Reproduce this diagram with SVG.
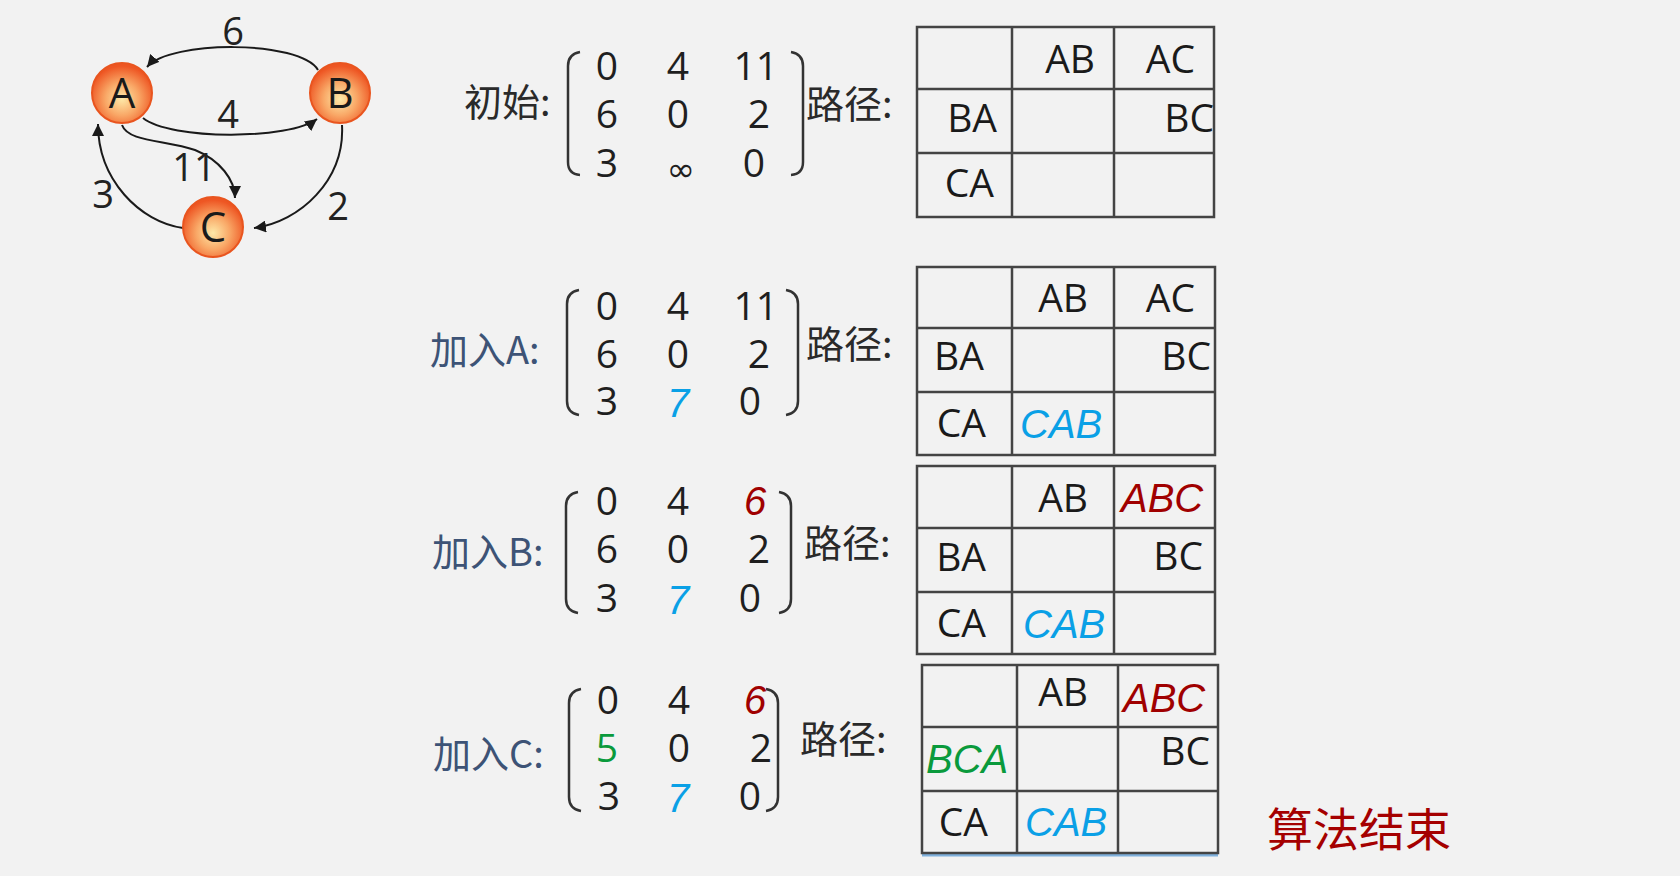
<svg xmlns="http://www.w3.org/2000/svg" width="1680" height="876" viewBox="0 0 1680 876">
<defs>
<radialGradient id="ng" cx="50%" cy="60%" r="55%">
<stop offset="0" stop-color="#fee9a8"/>
<stop offset="0.5" stop-color="#f9a867"/>
<stop offset="1" stop-color="#ee5623"/>
</radialGradient>
<marker id="ah" markerUnits="userSpaceOnUse" markerWidth="14" markerHeight="12" refX="12" refY="6" orient="auto">
<path d="M0,0 L12,6 L0,12 Z" fill="#1a1a1a"/>
</marker>
<style>
.bg{fill:#f2f2f2}
.node{fill:url(#ng);stroke:#e9551f;stroke-width:2}
.nl{font-family:"Open Sans","Noto Sans",sans-serif;font-size:42px;fill:#1a1a1a;text-anchor:middle}
.edge{fill:none;stroke:#1a1a1a;stroke-width:2;marker-end:url(#ah)}
.el{font-family:"Open Sans","Noto Sans",sans-serif;font-size:38px;fill:#222;text-anchor:middle}
.num{font-family:"Open Sans","Noto Sans",sans-serif;font-size:39px;fill:#1f1f1f;text-anchor:middle}
.hw{font-family:"Liberation Sans","DejaVu Sans",sans-serif;font-style:italic;font-size:40px}
.blue{fill:#0aa0e6}
.red{fill:#a00000}
.green{fill:#0a9a3c}
.cj{font-family:"Noto Sans CJK SC",sans-serif;font-size:38px;fill:#2a2a2a}
.lab{font-family:"Noto Sans CJK SC",sans-serif;font-size:38px;fill:#3d5376}
.br{fill:none;stroke:#333;stroke-width:2.5}
.tb{fill:none;stroke:#444;stroke-width:2.5}
.tt{font-family:"Open Sans","Noto Sans",sans-serif;font-size:39px;fill:#1a1a1a}
.end{text-anchor:end}
.fin{font-family:"Noto Sans CJK SC",sans-serif;font-size:46px;fill:#a50000;font-weight:400}
</style>
</defs>
<rect class="bg" x="0" y="0" width="1680" height="876"/>

<g id="connectors">
<path class="edge" d="M318,70 C300,40 170,40 147,67"/>
<path class="edge" d="M143,118 C170,140 290,140 317,119"/>
<path class="edge" d="M122,125 C128,142 165,140 195,150 C220,160 235,180 235,198"/>
<path class="edge" d="M183,228 C140,222 98,180 98,124"/>
<path class="edge" d="M342,125 C345,180 300,222 254,228"/>
<text class="el" x="233" y="45">6</text>
<text class="el" x="228" y="128">4</text>
<text class="el" x="194" y="181">11</text>
<text class="el" x="103" y="208">3</text>
<text class="el" x="338" y="220">2</text>
</g>

<g id="node-A"><circle class="node" cx="122" cy="93" r="30"/><text class="nl" x="122" y="108">A</text></g>
<g id="node-B"><circle class="node" cx="340" cy="93" r="30"/><text class="nl" x="340" y="108">B</text></g>
<g id="node-C"><circle class="node" cx="213" cy="227" r="30"/><text class="nl" x="213" y="242">C</text></g>

<g id="matrix-init">
<text class="cj" x="464" y="116">初始:</text>
<path class="br" d="M580,52 Q568,54 568,66 L568,162 Q568,174 580,175"/>
<path class="br" d="M791,52 Q803,54 803,66 L803,162 Q803,174 791,175"/>
<text class="num" x="607" y="80">0</text><text class="num" x="678" y="80">4</text><text class="num end" x="778" y="80">11</text>
<text class="num" x="607" y="128">6</text><text class="num" x="678" y="128">0</text><text class="num end" x="770" y="128">2</text>
<text class="num" x="607" y="177">3</text><text x="681" y="181" style="font-family:'DejaVu Sans',sans-serif;font-size:34px;fill:#1f1f1f;text-anchor:middle">∞</text><text class="num" x="754" y="177">0</text>
<text class="cj" x="806" y="118">路径:</text>
</g>

<g id="table-init">
<rect class="tb" x="917" y="27" width="297" height="190"/>
<path class="tb" d="M1012,27 V217 M1114,27 V217 M917,89 H1214 M917,153 H1214"/>
<text class="tt end" x="1095" y="73">AB</text><text class="tt end" x="1195" y="73">AC</text>
<text class="tt end" x="997" y="132">BA</text><text class="tt end" x="1214" y="132">BC</text>
<text class="tt end" x="994" y="197">CA</text>
</g>

<g id="matrix-A">
<text class="lab" x="430" y="364">加入A:</text>
<path class="br" d="M579,290 Q567,292 567,304 L567,401 Q567,413 579,415"/>
<path class="br" d="M786,290 Q798,292 798,304 L798,401 Q798,413 786,415"/>
<text class="num" x="607" y="320">0</text><text class="num" x="678" y="320">4</text><text class="num end" x="778" y="320">11</text>
<text class="num" x="607" y="368">6</text><text class="num" x="678" y="368">0</text><text class="num end" x="770" y="368">2</text>
<text class="num" x="607" y="415">3</text><text class="hw blue" x="678" y="417" text-anchor="middle">7</text><text class="num" x="750" y="415">0</text>
<text class="cj" x="806" y="358">路径:</text>
</g>

<g id="table-A">
<rect class="tb" x="917" y="267" width="298" height="188"/>
<path class="tb" d="M1012,267 V455 M1114,267 V455 M917,328 H1215 M917,392 H1215"/>
<text class="tt end" x="1088" y="312">AB</text><text class="tt end" x="1195" y="312">AC</text>
<text class="tt" x="934" y="370">BA</text><text class="tt end" x="1211" y="370">BC</text>
<text class="tt end" x="986" y="437">CA</text><text class="hw blue" x="1020" y="438">CAB</text>
</g>

<g id="matrix-B">
<text class="lab" x="432" y="566">加入B:</text>
<path class="br" d="M578,492 Q566,494 566,506 L566,599 Q566,611 578,613"/>
<path class="br" d="M779,492 Q791,494 791,506 L791,599 Q791,611 779,613"/>
<text class="num" x="607" y="515">0</text><text class="num" x="678" y="515">4</text><text class="hw red" x="755" y="515" text-anchor="middle">6</text>
<text class="num" x="607" y="563">6</text><text class="num" x="678" y="563">0</text><text class="num end" x="770" y="563">2</text>
<text class="num" x="607" y="612">3</text><text class="hw blue" x="678" y="614" text-anchor="middle">7</text><text class="num" x="750" y="612">0</text>
<text class="cj" x="804" y="557">路径:</text>
</g>

<g id="table-B">
<rect class="tb" x="917" y="466" width="298" height="188"/>
<path class="tb" d="M1012,466 V654 M1114,466 V654 M917,528 H1215 M917,592 H1215"/>
<text class="tt end" x="1088" y="512">AB</text><text class="hw red" x="1121" y="512">ABC</text>
<text class="tt end" x="986" y="571">BA</text><text class="tt end" x="1203" y="570">BC</text>
<text class="tt end" x="986" y="637">CA</text><text class="hw blue" x="1023" y="638">CAB</text>
</g>

<g id="matrix-C">
<text class="lab" x="433" y="768">加入C:</text>
<path class="br" d="M581,689 Q569,691 569,703 L569,797 Q569,809 581,811"/>
<path class="br" d="M766,689 Q778,691 778,703 L778,797 Q778,809 766,811"/>
<text class="num" x="608" y="714">0</text><text class="num" x="679" y="714">4</text><text class="hw red" x="755" y="714" text-anchor="middle">6</text>
<text class="num green" x="607" y="762">5</text><text class="num" x="679" y="762">0</text><text class="num end" x="772" y="762">2</text>
<text class="num" x="609" y="810">3</text><text class="hw blue" x="678" y="812" text-anchor="middle">7</text><text class="num" x="750" y="810">0</text>
<text class="cj" x="800" y="753">路径:</text>
</g>

<g id="table-C">
<line x1="922" y1="855" x2="1218" y2="855" stroke="#7fb0dc" stroke-width="3"/>
<rect class="tb" x="922" y="665" width="296" height="188"/>
<path class="tb" d="M1017,665 V853 M1118,665 V853 M922,727 H1218 M922,791 H1218"/>
<text class="tt end" x="1088" y="706">AB</text><text class="hw red" x="1123" y="712">ABC</text>
<text class="hw green" x="926" y="773">BCA</text><text class="tt end" x="1210" y="765">BC</text>
<text class="tt end" x="988" y="836">CA</text><text class="hw blue" x="1025" y="836">CAB</text>
</g>

<g id="end-label">
<text class="fin" x="1267" y="846">算法结束</text>
</g>
</svg>
